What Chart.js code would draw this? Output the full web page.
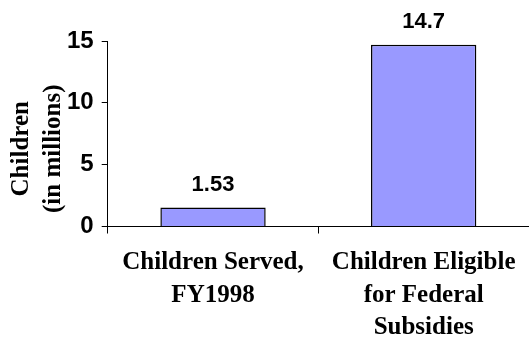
<!DOCTYPE html>
<html>
<head>
<meta charset="utf-8">
<script src="https://cdn.jsdelivr.net/npm/chart.js@4/dist/chart.umd.min.js"></script>
<style>
  html, body { margin: 0; padding: 0; background: #fff; }
  #wrap { width: 529px; height: 339px; }
</style>
</head>
<body>
<div id="wrap"><canvas id="children"></canvas></div>
<script>
// categories and values (millions of children)
var categories = [['Children Served,', 'FY1998'], ['Children Eligible', 'for Federal', 'Subsidies']];
var childCounts = [1.53, 14.7];
var valueLabels = ['1.53', '14.7'];
var yTicks = [0, 5, 10, 15];
var yTitle = ['Children', '(in millions)'];

var titleFont = 'bold 25px "Liberation Serif", "Times New Roman", serif';
var titleLine = 32.5;

// writes the value above each bar
var barValues = {
  id: 'barValues',
  afterDatasetsDraw: function(chart) {
    var ctx = chart.ctx;
    var meta = chart.getDatasetMeta(0);
    ctx.save();
    ctx.fillStyle = '#000';
    ctx.font = 'bold 22px "Liberation Sans", Arial, sans-serif';
    ctx.textAlign = 'center';
    ctx.textBaseline = 'alphabetic';
    meta.data.forEach(function(bar, i) {
      ctx.fillText(valueLabels[i], bar.x, bar.y - 17);
    });
    ctx.restore();
  }
};

// y title sits a little below the middle of the plot, so it is drawn here
var yTitleDraw = {
  id: 'yTitleDraw',
  afterDraw: function(chart) {
    var ctx = chart.ctx;
    var area = chart.chartArea;
    var left = chart.scales.y.left;
    var midY = (area.top + area.bottom) / 2 + 15;
    ctx.save();
    ctx.fillStyle = '#000';
    ctx.font = titleFont;
    ctx.textAlign = 'center';
    ctx.textBaseline = 'middle';
    yTitle.forEach(function(line, i) {
      ctx.save();
      ctx.translate(left + titleLine / 2 + i * titleLine, midY);
      ctx.rotate(-Math.PI / 2);
      ctx.fillText(line, 0, 0);
      ctx.restore();
    });
    ctx.restore();
  }
};

var chart = new Chart('children', {
  type: 'bar',
  plugins: [barValues, yTitleDraw],
  data: {
    labels: categories,
    datasets: [{
      data: childCounts,
      backgroundColor: '#9999FF',
      borderColor: '#000',
      borderWidth: 1.5,
      barPercentage: 0.5,
      categoryPercentage: 1.0
    }]
  },
  options: {
    responsive: true,
    maintainAspectRatio: false,
    animation: false,
    layout: { padding: { top: 41, right: 0, left: 5, bottom: 0 } },
    plugins: {
      legend: { display: false },
      tooltip: { enabled: false }
    },
    scales: {
      x: {
        // the last label line runs to the bottom edge
        afterFit: function(scale) {
          scale.height -= 18;
        },
        grid: {
          offset: true,
          drawOnChartArea: false,
          tickLength: 7,
          color: '#000'
        },
        border: { color: '#000', width: 1 },
        ticks: {
          color: '#000',
          padding: 13,
          maxRotation: 0,
          autoSkip: false,
          font: { family: '"Liberation Serif", "Times New Roman", serif', weight: 'bold', size: 25, lineHeight: 1.3 }
        }
      },
      y: {
        min: 0,
        max: 15,
        afterBuildTicks: function(axis) {
          axis.ticks = yTicks.map(function(v) { return { value: v }; });
        },
        grid: {
          drawOnChartArea: false,
          tickLength: 6,
          color: '#000'
        },
        border: { color: '#000', width: 1 },
        ticks: {
          color: '#000',
          padding: 8,
          font: { family: '"Liberation Sans", Arial, sans-serif', weight: 'bold', size: 24 }
        },
        // keeps room for the title drawn by yTitleDraw
        title: {
          display: true,
          text: yTitle,
          color: 'rgba(0,0,0,0)',
          padding: { top: 0, bottom: -11 },
          font: { family: '"Liberation Serif", "Times New Roman", serif', weight: 'bold', size: 25, lineHeight: 1.3 }
        }
      }
    }
  }
});
</script>
</body>
</html>
